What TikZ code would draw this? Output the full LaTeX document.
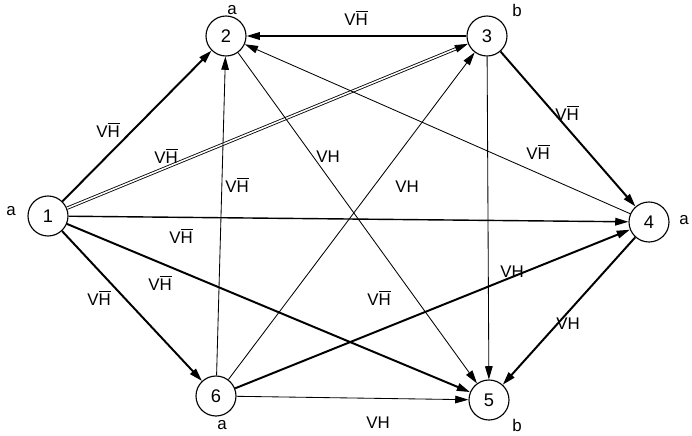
\documentclass[tikz,border=0pt]{standalone}
\usepackage{fontspec}
\setmainfont{Liberation Sans}
\usetikzlibrary{automata, arrows.meta}
\newcommand{\vhbar}{V$\overline{\mbox{H}}$}

\begin{document}
\begin{tikzpicture}[x=0.025cm,y=-0.025cm,
		every state/.style={draw,line width=0.8pt,minimum size=1cm,inner sep=0pt,font=\fontsize{13}{15}\selectfont},
		>={Triangle[length=3.3mm,width=1.9mm]},
		lbl/.style={font=\fontsize{12}{14}\selectfont,inner sep=1pt},
		heavy/.style={line width=1.4pt},
		light/.style={line width=0.6pt},
		hollow/.style={line width=0.6pt,double,double distance=1.1pt}]
	\useasboundingbox (0,0) rectangle (692,435);
			\node[state] (1) at (48,216)	{1};
			\node[state] (2) at (226,36)	{2};
			\node[state] (3) at (487,36)	{3};
			\node[state] (4) at (649,222)	{4};
			\node[state] (5) at (489,400)	{5};
			\node[state] (6) at (216,396)	{6};
			% state letters
			\node[lbl] (a1) at (11,211)		{a};
			\node[lbl] (a2) at (232,10)		{a};
			\node[lbl] (b3) at (517,10)		{b};
			\node[lbl] (a4) at (684,220)	{a};
			\node[lbl] (b5) at (517,425)	{b};
			\node[lbl] (a6) at (222,425)	{a};
			\path[->] 	(1) edge[heavy] 	(2)
							edge[hollow] 	(3)
							edge[line width=1pt] 	(4)
							edge[heavy] 	(5)
							edge[heavy] 	(6)
						(3) edge[line width=1pt] 	(2)
							edge[heavy] 	(4)
							edge[light] 	(5)
						(2) edge[light] 	(5)
						(4) edge[light] 	(2)
							edge[heavy] 	(5)
						(6) edge[light] 	(2)
							edge[light] 	(3)
							edge[heavy] 	(4)
							edge[light] 	(5);
			% edge labels
			\node[lbl] (l12) at (108,130)	{\vhbar};
			\node[lbl] (l13) at (166,156)	{\vhbar};
			\node[lbl] (l14) at (181,236)	{\vhbar};
			\node[lbl] (l15) at (160,283)	{\vhbar};
			\node[lbl] (l16) at (99,298)	{\vhbar};
			\node[lbl] (l32) at (356,18)	{\vhbar};
			\node[lbl] (l62) at (237,185)	{\vhbar};
			\node[lbl] (l25) at (328,157)	{VH};
			\node[lbl] (l63) at (407,187)	{VH};
			\node[lbl] (l42) at (538,152)	{\vhbar};
			\node[lbl] (l34) at (567,113)	{\vhbar};
			\node[lbl] (l35) at (512,272)	{VH};
			\node[lbl] (l64) at (379,298)	{\vhbar};
			\node[lbl] (l45) at (568,324)	{VH};
			\node[lbl] (l65) at (378,423)	{VH};
	\end{tikzpicture}
\end{document}
